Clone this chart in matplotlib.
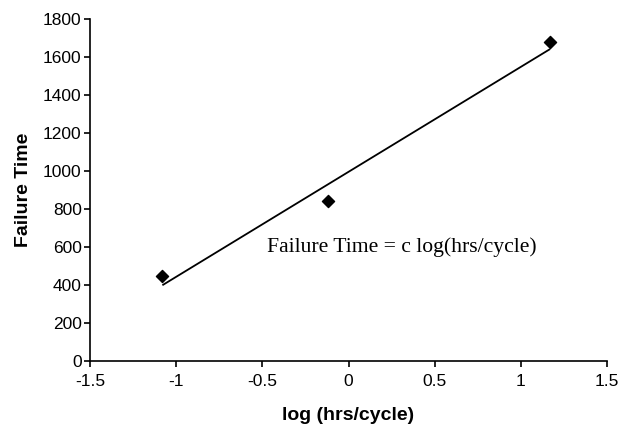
import numpy as np
import matplotlib
matplotlib.use("Agg")
import matplotlib.pyplot as plt

log_hrs_cycle = [-1.08, -0.12, 1.17]
failure_time = [450, 840, 1680]
x_ticks = [-1.5, -1, -0.5, 0, 0.5, 1, 1.5]
x_tick_labels = ["-1.5", "-1", "-0.5", "0", "0.5", "1", "1.5"]
y_ticks = [0, 200, 400, 600, 800, 1000, 1200, 1400, 1600, 1800]
annotation = "Failure Time = c log(hrs/cycle)"

fig = plt.figure(figsize=(6.32, 4.24), dpi=100)
ax = fig.add_axes([90 / 632, (424 - 361) / 424, (607 - 90) / 632, (361 - 19) / 424])

x = np.array(log_hrs_cycle)
y = np.array(failure_time)
slope, intercept = np.polyfit(x, y, 1)
ax.plot([x.min(), x.max()], [slope * x.min() + intercept, slope * x.max() + intercept],
        color="black", lw=1.3, solid_capstyle="butt")
ax.scatter(x, y, marker="D", s=38, color="black", zorder=3)

ax.text(-0.475, 600, annotation, fontfamily="Liberation Serif", fontsize=15.6,
        va="center", ha="left")

ax.set_xlim(-1.5, 1.5)
ax.set_ylim(0, 1800)
ax.set_xticks(x_ticks)
ax.set_xticklabels(x_tick_labels)
ax.set_yticks(y_ticks)
for s in ["top", "right"]:
    ax.spines[s].set_visible(False)
for s in ["left", "bottom"]:
    ax.spines[s].set_linewidth(1.2)
ax.tick_params(axis="both", direction="out", length=4, width=1.2,
               labelsize=12.5, pad=2)
ax.tick_params(axis="x", pad=5)
for lab in ax.get_xticklabels() + ax.get_yticklabels():
    lab.set_fontfamily("Liberation Sans")

ax.set_xlabel("log (hrs/cycle)", fontfamily="Liberation Sans", fontweight="bold",
              fontsize=14, labelpad=13)
ax.set_ylabel("Failure Time", fontfamily="Liberation Sans", fontweight="bold",
              fontsize=14, labelpad=8)

fig.savefig("out.png", dpi=100)
